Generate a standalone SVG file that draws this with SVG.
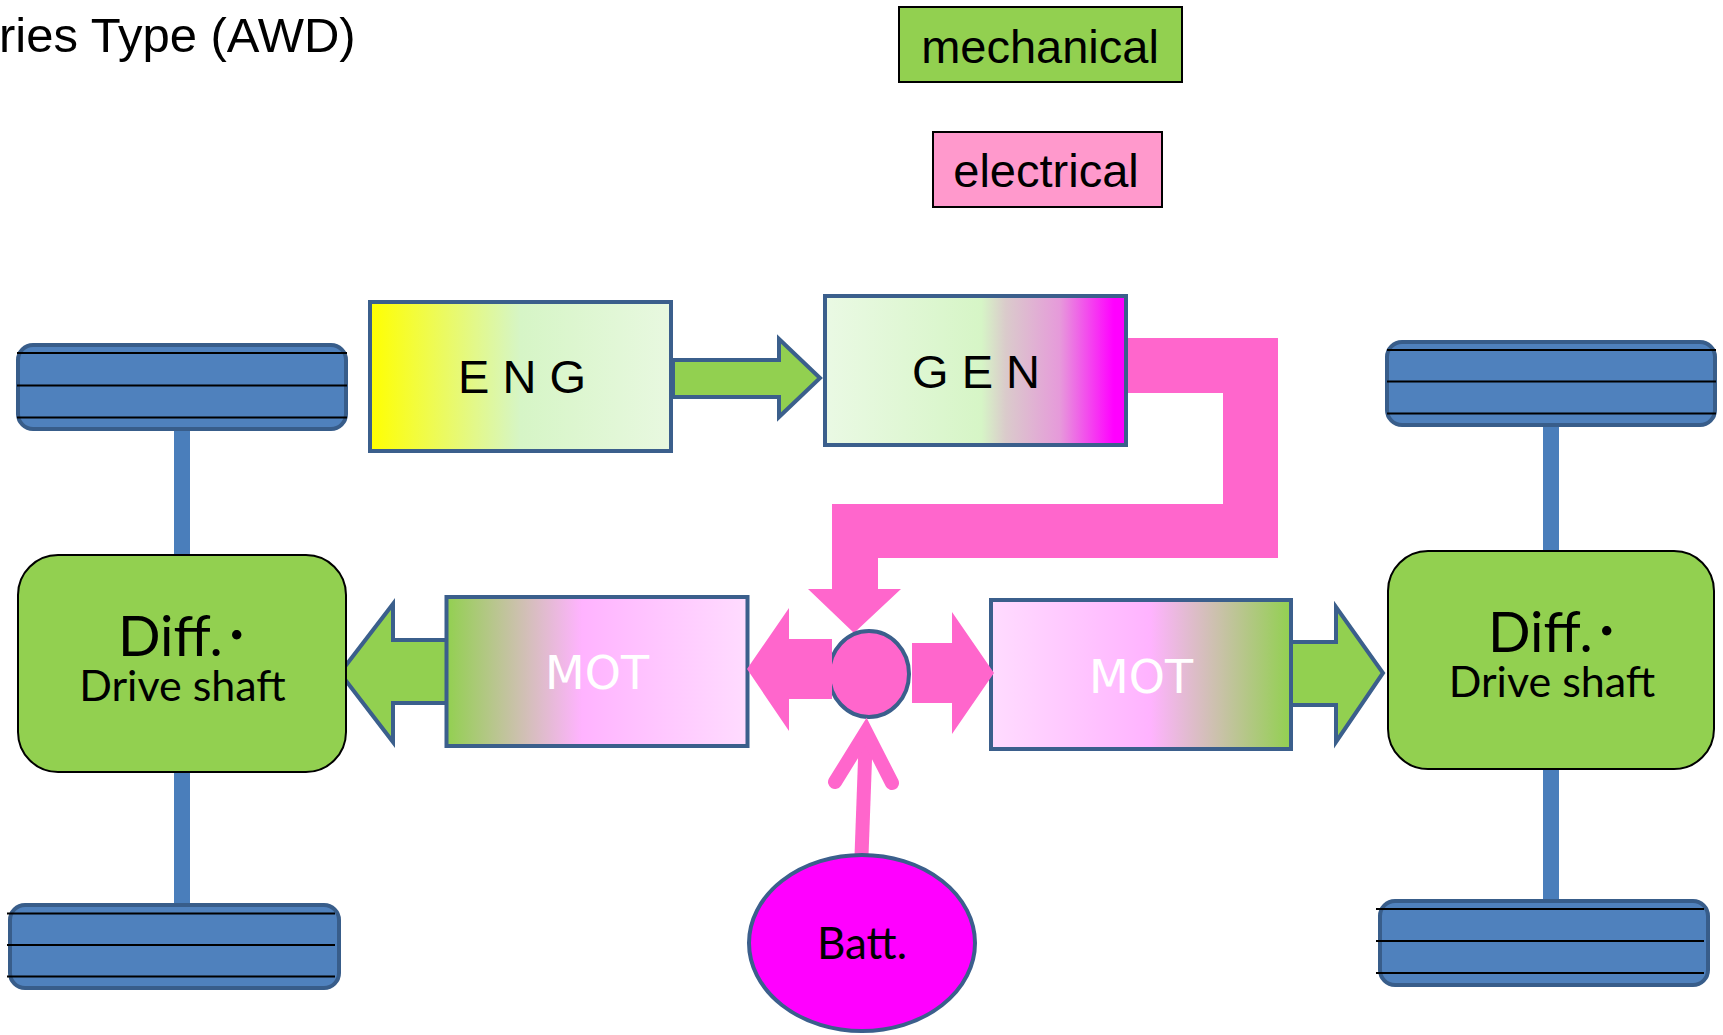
<svg xmlns="http://www.w3.org/2000/svg" width="1723" height="1035" viewBox="0 0 1723 1035">
<defs>
<linearGradient id="gEng" x1="0" y1="0" x2="1" y2="0">
<stop offset="0" stop-color="#FFFF00"/><stop offset="0.5" stop-color="#D6F5C6"/><stop offset="1" stop-color="#E8F8E0"/>
</linearGradient>
<linearGradient id="gGen" x1="0" y1="0" x2="1" y2="0">
<stop offset="0" stop-color="#EAF9E4"/><stop offset="0.52" stop-color="#D6F5C6"/><stop offset="0.6" stop-color="#DACBCB"/><stop offset="0.78" stop-color="#E69ADA"/><stop offset="0.96" stop-color="#FF00FF"/><stop offset="1" stop-color="#FF00FF"/>
</linearGradient>
<linearGradient id="gMotL" x1="0" y1="0" x2="1" y2="0">
<stop offset="0" stop-color="#92D050"/><stop offset="0.45" stop-color="#FFB3FF"/><stop offset="1" stop-color="#FFDCFF"/>
</linearGradient>
<linearGradient id="gMotR" x1="0" y1="0" x2="1" y2="0">
<stop offset="0" stop-color="#FFDCFF"/><stop offset="0.53" stop-color="#FFB3FF"/><stop offset="1" stop-color="#92D050"/>
</linearGradient>
</defs>
<style>
.box{stroke:#3B5F8C;stroke-width:4}
.lbl{font-family:"Liberation Sans",Arial,sans-serif;fill:#000}
.cal{font-family:Lato,"Noto Sans CJK JP",sans-serif;fill:#000}
.mot{font-family:"DejaVu Sans",sans-serif;font-size:46px;fill:#fff;text-anchor:middle}
.wheel{fill:#4F81BD;stroke:#385D8A;stroke-width:4}
.tread{stroke:#000;stroke-width:2}
.axle{fill:#4A7EBB}
.diff{fill:#92D050;stroke:#000;stroke-width:2}
.garrow{fill:#92D050;stroke:#3B5F8C;stroke-width:4}
.pink{fill:#FF66CC}
</style>
<rect width="1723" height="1035" fill="#fff"/>
<text x="-1" y="52" class="lbl" font-size="49">ries Type (AWD)</text>

<g id="legend-mechanical"><rect x="899" y="7" width="283" height="75" fill="#92D050" stroke="#000" stroke-width="2"/><text x="1040" y="63" class="lbl" font-size="47" text-anchor="middle">mechanical</text></g>
<g id="legend-electrical"><rect x="933" y="132" width="229" height="75" fill="#FF99CC" stroke="#000" stroke-width="2"/><text x="1046" y="187" class="lbl" font-size="47" text-anchor="middle">electrical</text></g>

<g id="connectors">
<rect class="axle" x="174" y="429" width="16" height="127"/>
<rect class="axle" x="174" y="771" width="16" height="134"/>
<rect class="axle" x="1543" y="425" width="16" height="127"/>
<rect class="axle" x="1543" y="768" width="16" height="133"/>
<path class="pink" d="M1120,338 H1278 V558 H878 V589 H901 L854,633 L808,589 H832 V504 H1223 V393 H1120 Z"/>
<path class="garrow" d="M673,360 H779 V339 L820,378 L779,417 V397 H673 Z"/>
<path class="garrow" d="M450,640 H393 V604 L340,673 L393,742 V703 H450 Z"/>
<path class="garrow" d="M1290,642 H1336 V607 L1383,673 L1336,742 V705 H1290 Z"/>
</g>

<g id="eng"><rect class="box" x="370" y="302" width="301" height="149" fill="url(#gEng)"/><text x="522" y="393" class="lbl" font-size="47" text-anchor="middle">E N G</text></g>
<g id="gen"><rect class="box" x="825" y="296" width="301" height="149" fill="url(#gGen)"/><text x="976" y="388" class="lbl" font-size="47" text-anchor="middle">G E N</text></g>
<g id="mot-left"><rect class="box" x="446.5" y="597" width="301" height="149" fill="url(#gMotL)"/><text x="597" y="689" class="mot">MOT</text></g>
<g id="mot-right"><rect class="box" x="991" y="600" width="300" height="149" fill="url(#gMotR)"/><text x="1141" y="693" class="mot">MOT</text></g>

<g id="junction">
<ellipse cx="869" cy="674" rx="40" ry="43" fill="#FF66CC" stroke="#3B5F8C" stroke-width="4"/>
<path class="pink" d="M832,639 H789 V608 L747,669 L789,731 V699 H832 Z"/>
<path class="pink" d="M912,643 H952 V612 L994,673 L952,734 V703 H912 Z"/>
<line x1="861.5" y1="856" x2="866" y2="732" stroke="#FF66CC" stroke-width="14"/>
<polyline points="835,782 866,732 892,783" fill="none" stroke="#FF66CC" stroke-width="14" stroke-linecap="round" stroke-linejoin="miter"/>
</g>

<g id="battery"><ellipse cx="862" cy="943" rx="113" ry="88" fill="#FF00FF" stroke="#3B5F8C" stroke-width="4"/><text x="862" y="959" class="cal" font-size="44" text-anchor="middle">Batt.</text></g>

<g id="diff-left"><rect class="diff" x="18" y="555" width="328" height="217" rx="40"/><text x="118" y="656" class="cal" font-size="56">Diff.･</text><text x="182.5" y="701" class="cal" font-size="43" text-anchor="middle">Drive shaft</text></g>
<g id="diff-right"><rect class="diff" x="1388" y="551" width="326" height="218" rx="40"/><text x="1488" y="652" class="cal" font-size="56">Diff.･</text><text x="1552" y="697" class="cal" font-size="43" text-anchor="middle">Drive shaft</text></g>

<g id="wheel-left-top"><rect class="wheel" x="18" y="345" width="328" height="84" rx="15"/><line class="tread" x1="17" y1="353" x2="347" y2="353"/><line class="tread" x1="17" y1="385.5" x2="347" y2="385.5"/><line class="tread" x1="17" y1="417.5" x2="347" y2="417.5"/></g>
<g id="wheel-right-top"><rect class="wheel" x="1387" y="342" width="328" height="83" rx="15"/><line class="tread" x1="1387" y1="350" x2="1716" y2="350"/><line class="tread" x1="1387" y1="381.5" x2="1716" y2="381.5"/><line class="tread" x1="1387" y1="413.5" x2="1716" y2="413.5"/></g>
<g id="wheel-left-bottom"><rect class="wheel" x="10" y="905" width="329" height="83" rx="15"/><line class="tread" x1="7" y1="913.5" x2="335" y2="913.5"/><line class="tread" x1="7" y1="945" x2="335" y2="945"/><line class="tread" x1="7" y1="976.5" x2="335" y2="976.5"/></g>
<g id="wheel-right-bottom"><rect class="wheel" x="1380" y="901" width="328" height="84" rx="15"/><line class="tread" x1="1376" y1="909" x2="1704" y2="909"/><line class="tread" x1="1376" y1="941" x2="1704" y2="941"/><line class="tread" x1="1376" y1="973" x2="1704" y2="973"/></g>
</svg>
